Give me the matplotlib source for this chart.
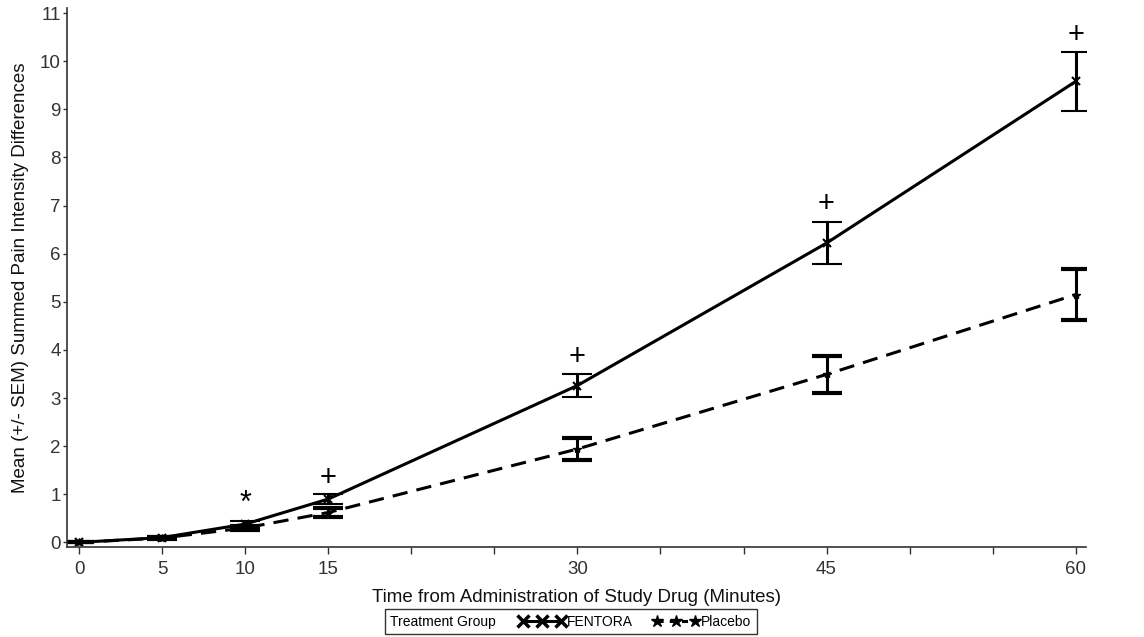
import matplotlib
matplotlib.use("Agg")
import matplotlib.pyplot as plt
from matplotlib.lines import Line2D
from matplotlib.offsetbox import HPacker

plt.rcParams['font.family'] = ['Liberation Sans', 'DejaVu Sans']

# data
minutes = [0, 5, 10, 15, 30, 45, 60]
fentora_mean = [0.0, 0.10, 0.38, 0.90, 3.26, 6.22, 9.58]
fentora_sem = [0.0, 0.03, 0.06, 0.10, 0.24, 0.44, 0.62]
placebo_mean = [0.0, 0.09, 0.30, 0.62, 1.94, 3.49, 5.15]
placebo_sem = [0.0, 0.03, 0.05, 0.10, 0.22, 0.38, 0.53]

# significance markers above FENTORA
sig_minutes = [10, 15, 30, 45, 60]
sig_labels = ['*', '+', '+', '+', '+']
sig_y = [0.80, 1.34, 3.86, 7.03, 10.55]

tick_minutes = list(range(0, 61, 5))
labelled_minutes = [0, 5, 10, 15, 30, 45, 60]

fig = plt.figure(figsize=(11.44, 6.37), dpi=100)
ax = fig.add_axes([0.059, 0.141, 0.89, 0.846])

ax.errorbar(minutes, fentora_mean, yerr=fentora_sem, color='black', lw=2.2,
            ls='-', marker='x', ms=6, mew=1.5, capsize=11, capthick=3,
            elinewidth=2.2, label='FENTORA')
ax.errorbar(minutes, placebo_mean, yerr=placebo_sem, color='black', lw=2.2,
            ls=(0, (5, 3)), marker='*', ms=6, capsize=11, capthick=3,
            elinewidth=2.2, label='Placebo')

for m, s, y in zip(sig_minutes, sig_labels, sig_y):
    ax.text(m, y, s, ha='center', va='center', fontsize=21 if s == '+' else 22,
            color='black')

ax.set_xlim(-0.7, 60.6)
ax.set_ylim(-0.1, 11.1)
ax.set_xticks(tick_minutes)
ax.set_xticklabels([str(t) if t in labelled_minutes else '' for t in tick_minutes])
ax.set_yticks(range(0, 12))
ax.tick_params(labelsize=13.5, colors='#333333', width=1)
ax.tick_params(axis='x', length=5, pad=5)
ax.tick_params(axis='y', length=3, pad=2)
for side in ['top', 'right']:
    ax.spines[side].set_visible(False)
for side in ['left', 'bottom']:
    ax.spines[side].set_linewidth(1.2)
    ax.spines[side].set_color('#333333')

ax.set_xlabel('Time from Administration of Study Drug (Minutes)', fontsize=13.5,
              color='#111111', labelpad=8)
ax.set_ylabel('Mean (+/- SEM) Summed Pain Intensity Differences', fontsize=13.5,
              color='#111111', labelpad=8)

handles = [Line2D([], [], color='black', lw=2.2, marker='x', ms=8, mew=2.5),
           Line2D([], [], color='black', lw=2.2, ls=(0, (2, 2)), marker='*', ms=9)]
leg = fig.legend(handles, ['FENTORA', 'Placebo'], loc='center',
                 bbox_to_anchor=(0.499, 0.024), ncol=2, numpoints=3,
                 title='Treatment Group', fontsize=10, title_fontsize=10,
                 frameon=True, fancybox=False, edgecolor='black',
                 handlelength=3.4, handletextpad=0.1, columnspacing=1.4,
                 borderpad=0.25)
leg.get_frame().set_linewidth(1.0)
# put the title to the left of the entries, SAS style
leg._legend_box = HPacker(pad=4, sep=16,
                          children=[leg._legend_title_box, leg._legend_handle_box],
                          align='center')
leg._legend_box.set_figure(fig)
leg._legend_box.set_offset(leg._findoffset)

fig.savefig('out.png', dpi=100)
